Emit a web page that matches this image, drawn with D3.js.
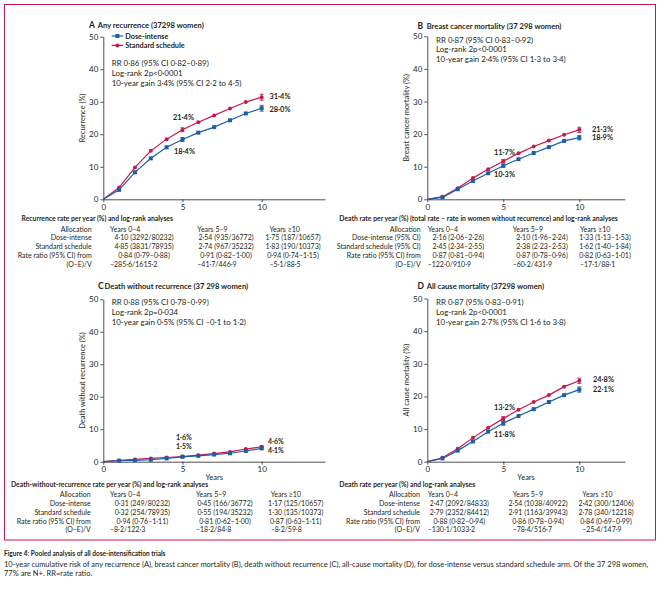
<!DOCTYPE html>
<html><head><meta charset="utf-8">
<script src="https://cdn.jsdelivr.net/npm/d3@7"></script>
<style>
body{margin:0;background:#fff}
text{font-family:Lato,"Open Sans",sans-serif;fill:#231f20}
</style>
</head><body><svg id="c" width="666" height="592"></svg>
<script>
// ---------- data ----------
const years = [0,1,2,3,4,5,6,7,8,9,10];
const recurDose = [0,2.9,8.3,12.6,16.0,18.4,20.5,22.2,24.3,26.4,28.0];
const recurStd  = [0,3.6,9.8,14.9,18.5,21.4,23.7,25.8,27.9,29.9,31.4];
const bcmDose   = [0,0.6,3.1,5.6,8.0,10.3,12.3,14.2,16.0,17.9,18.9];
const bcmStd    = [0,0.8,3.4,6.5,9.2,11.7,14.1,16.2,18.0,19.8,21.3];
const dwrDose   = [0,0.3,0.4,0.6,1.0,1.5,1.8,2.2,2.6,3.3,4.1];
const dwrStd    = [0,0.4,0.7,1.0,1.3,1.6,2.0,2.5,3.0,3.9,4.6];
const acmDose   = [0,1.0,3.4,6.2,9.2,11.8,14.0,16.1,18.3,20.4,22.1];
const acmStd    = [0,1.2,4.0,7.3,10.4,13.2,15.9,18.3,20.4,23.0,24.8];
// error bars (half-widths) at years 5 and 10
const errYears = [5,10];
const recurDoseErr = [0.6,0.9], recurStdErr = [0.6,0.9];
const bcmDoseErr = [0.5,0.7], bcmStdErr = [0.5,0.8];
const dwrDoseErr = [0.2,0.3], dwrStdErr = [0.2,0.3];
const acmDoseErr = [0.6,0.8], acmStdErr = [0.6,0.8];
// labelled values
const recurLabels = ["21·4%","18·4%","31·4%","28·0%"];
const bcmLabels = ["11·7%","10·3%","21·3%","18·9%"];
const dwrLabels = ["1·6%","1·5%","4·6%","4·1%"];
const acmLabels = ["13·2%","11·8%","24·8%","22·1%"];
const yTicks = [0,10,20,30,40,50];
const xTicks = [0,5,10];
const seriesNames = ["Dose-intense","Standard schedule"];
// stats
const recurStats = ["RR 0·86 (95% CI 0·82–0·89)","Log-rank 2p<0·0001","10-year gain 3·4% (95% CI 2·2 to 4·5)"];
const bcmStats = ["RR 0·87 (95% CI 0·83–0·92)","Log-rank 2p<0·0001","10-year gain 2·4% (95% CI 1·3 to 3·4)"];
const dwrStats = ["RR 0·88 (95% CI 0·78–0·99)","Log-rank 2p=0·034","10-year gain 0·5% (95% CI –0·1 to 1·2)"];
const acmStats = ["RR 0·87 (95% 0·83–0·91)","Log-rank 2p<0·0001","10-year gain 2·7% (95% CI 1·6 to 3·8)"];
// tables
const tableHeader = ["Allocation","Years 0–4","Years 5–9","Years ≥10"];
const rowLabelsPlain = ["Dose-intense","Standard schedule","Rate ratio (95% CI) from","(O–E)/V"];
const rowLabelsCI = ["Dose-intense (95% CI)","Standard schedule (95% CI)","Rate ratio (95% CI) from","(O–E)/V"];
const recurDoseRow = ["4·10 (3292/80232)","2·54 (935/36772)","1·75 (187/10657)"];
const recurStdRow  = ["4·85 (3831/78935)","2·74 (967/35232)","1·83 (190/10373)"];
const recurRR      = ["0·84 (0·79–0·88)","0·91 (0·82–1·00)","0·94 (0·74–1·15)"];
const recurOEV     = ["–285·6/1615·2","–41·7/446·9","–5·1/88·5"];
const bcmDoseRow = ["2·16 (2·06–2·26)","2·10 (1·96–2·24)","1·33 (1·13–1·53)"];
const bcmStdRow  = ["2·45 (2·34–2·55)","2·38 (2·23–2·53)","1·62 (1·40–1·84)"];
const bcmRR      = ["0·87 (0·81–0·94)","0·87 (0·78–0·96)","0·82 (0·63–1·01)"];
const bcmOEV     = ["–122·0/910·9","–60·2/431·9","–17·1/88·1"];
const dwrDoseRow = ["0·31 (249/80232)","0·45 (166/36772)","1·17 (125/10657)"];
const dwrStdRow  = ["0·32 (254/78935)","0·55 (194/35232)","1·30 (135/10373)"];
const dwrRR      = ["0·94 (0·76–1·11)","0·81 (0·62–1·00)","0·87 (0·63–1·11)"];
const dwrOEV     = ["–8·2/122·3","–18·2/84·8","–8·2/59·8"];
const acmDoseRow = ["2·47 (2092/84833)","2·54 (1038/40922)","2·42 (300/12406)"];
const acmStdRow  = ["2·79 (2352/84412)","2·91 (1163/39943)","2·78 (340/12218)"];
const acmRR      = ["0·88 (0·82–0·94)","0·86 (0·78–0·94)","0·84 (0·69–0·99)"];
const acmOEV     = ["–130·1/1033·2","–78·4/516·7","–25·4/147·9"];

const BLUE = "#1d5ea9", RED = "#c8174b", BORDER = "#c8174b";
const svg = d3.select("#c");

// frame
svg.append("rect").attr("x",4.5).attr("y",4.5).attr("width",651).attr("height",535.5)
  .attr("fill","none").attr("stroke",BORDER).attr("stroke-width",1);

function panel(cfg){
  const g = svg.append("g");
  const x = d3.scaleLinear().domain([0,cfg.xmax]).range([cfg.x0,cfg.x1]);
  const y = d3.scaleLinear().domain([0,50]).range([cfg.y1,cfg.y0]);
  // axes
  const ya = g.append("g").attr("transform",`translate(${cfg.x0},0)`)
    .call(d3.axisLeft(y).tickValues(yTicks).tickSize(3).tickPadding(2).tickSizeOuter(0));
  const xa = g.append("g").attr("transform",`translate(0,${cfg.y1})`)
    .call(d3.axisBottom(x).tickValues(xTicks).tickSize(3).tickPadding(2).tickSizeOuter(0));
  [ya,xa].forEach(a=>{
    a.selectAll("path,line").attr("stroke","#231f20").attr("stroke-width",0.8);
    a.selectAll("text").style("font-size","8px").attr("fill","#231f20").style("font-family","Lato");
  });
  // titles
  g.append("text").attr("x",cfg.lx).attr("y",cfg.ty).style("font-size","8.5px").style("font-weight","bold").text(cfg.letter);
  g.append("text").attr("x",cfg.tx).attr("y",cfg.ty).style("font-size","7.6px").style("font-weight","bold").text(cfg.title);
  // y label
  g.append("text").attr("transform",`translate(${cfg.x0-18},${(cfg.y0+cfg.y1)/2}) rotate(-90)`)
    .attr("text-anchor","middle").style("font-size","7.5px").text(cfg.ylabel);
  if(cfg.xlabel) g.append("text").attr("x",(cfg.x0+cfg.x1)/2).attr("y",cfg.y1+18.5)
    .attr("text-anchor","middle").style("font-size","7.5px").text(cfg.xlabel);
  // stats
  cfg.stats.forEach((s,i)=>g.append("text").attr("x",cfg.sx).attr("y",cfg.sy+i*9.6).style("font-size","7.9px").text(s));
  // series
  const line = d3.line().x((d,i)=>x(years[i])).y(d=>y(d));
  [[cfg.std,RED,"circle",cfg.stdErr],[cfg.dose,BLUE,"square",cfg.doseErr]].forEach(([vals,col,shape,err])=>{
    g.append("path").datum(vals).attr("d",line).attr("fill","none").attr("stroke",col).attr("stroke-width",1.2);
    // error bars
    errYears.forEach((yr,k)=>{
      const v = vals[years.indexOf(yr)], cx = x(yr);
      const e = g.append("g").attr("stroke",col).attr("stroke-width",0.9);
      e.append("line").attr("x1",cx).attr("x2",cx).attr("y1",y(v-err[k])).attr("y2",y(v+err[k]));
      e.append("line").attr("x1",cx-2).attr("x2",cx+2).attr("y1",y(v-err[k])).attr("y2",y(v-err[k]));
      e.append("line").attr("x1",cx-2).attr("x2",cx+2).attr("y1",y(v+err[k])).attr("y2",y(v+err[k]));
    });
    vals.forEach((v,i)=>{
      if(i===0) return;
      if(shape==="circle") g.append("circle").attr("cx",x(years[i])).attr("cy",y(v)).attr("r",2).attr("fill",col);
      else g.append("rect").attr("x",x(years[i])-2).attr("y",y(v)-2).attr("width",4).attr("height",4).attr("fill",col);
    });
  });
  // value labels
  const lab = cfg.labels;
  cfg.labelPos.forEach((p,i)=>g.append("text").attr("x",p[0]).attr("y",p[1]).attr("text-anchor",p[2]||"start")
    .style("font-size",(cfg.labelSize||7.4)+"px").style("font-weight","bold").text(lab[i]));
  // legend
  if(cfg.legend){
    seriesNames.forEach((n,i)=>{
      const ly = cfg.legend[1]+i*9.4, lx = cfg.legend[0];
      const col = i===0?BLUE:RED;
      g.append("line").attr("x1",lx).attr("x2",lx+11.5).attr("y1",ly).attr("y2",ly).attr("stroke",col).attr("stroke-width",1.2);
      if(i===0) g.append("rect").attr("x",lx+3.7).attr("y",ly-2).attr("width",4).attr("height",4).attr("fill",col);
      else g.append("circle").attr("cx",lx+5.75).attr("cy",ly).attr("r",2).attr("fill",col);
      g.append("text").attr("x",lx+13.5).attr("y",ly+2.6).style("font-size","7.3px").style("font-weight","bold").text(n);
    });
  }
}

function table(cfg){
  const g = svg.append("g").style("font-size","7px");
  g.append("text").attr("x",cfg.tx).attr("y",cfg.ty).style("font-weight","bold").style("font-size","6.8px").text(cfg.title);
  const r0 = cfg.ty+10.5, dy = 8.85;
  g.append("text").attr("x",cfg.lr).attr("y",r0).attr("text-anchor","end").text(tableHeader[0]);
  tableHeader.slice(1).forEach((h,j)=>g.append("text").attr("x",cfg.hx[j]).attr("y",r0).text(h));
  cfg.labels.forEach((l,i)=>g.append("text").attr("x",cfg.lr).attr("y",r0+(i+1)*dy).attr("text-anchor","end").text(l));
  cfg.rows.forEach((row,i)=>row.forEach((v,j)=>{
    const last = i===3;
    g.append("text").attr("x",last?cfg.hx[j]:cfg.cx[j]).attr("y",r0+(i+1)*dy)
      .attr("text-anchor",last?"start":"middle").text(v);
  }));
}

panel({letter:"A",title:"Any recurrence (37298 women)",lx:89,tx:97.7,ty:28.3,x0:103.3,x1:325,xmax:14,y0:36.7,y1:199.3,
  ylabel:"Recurrence (%)",stats:recurStats,sx:111.7,sy:66.3,dose:recurDose,std:recurStd,doseErr:recurDoseErr,stdErr:recurStdErr,
  labels:recurLabels,labelPos:[[173,120.2],[174,153.5],[269.5,99.2],[269.5,111.8]],legend:[111.7,36]});
panel({letter:"B",title:"Breast cancer mortality (37 298 women)",lx:417.5,tx:426.7,ty:28.5,x0:427.3,x1:624.9,xmax:13,y0:36.3,y1:199.3,
  ylabel:"Breast cancer mortality (%)",stats:bcmStats,sx:436,sy:42.7,dose:bcmDose,std:bcmStd,doseErr:bcmDoseErr,stdErr:bcmStdErr,
  labels:bcmLabels,labelPos:[[494,155.2],[494,176.5],[592,131.8],[592,139.8]]});
panel({letter:"C",title:"Death without recurrence (37 298 women)",lx:98,tx:104.5,ty:288.5,x0:103.3,x1:325,xmax:14,y0:299.3,y1:461.7,
  ylabel:"Death without recurrence (%)",xlabel:"Years",stats:dwrStats,sx:111.7,sy:305.4,dose:dwrDose,std:dwrStd,doseErr:dwrDoseErr,stdErr:dwrStdErr,
  labels:dwrLabels,labelSize:7,labelPos:[[176,439.5],[176,448.5],[268,444.3],[268,453.3]]});
panel({letter:"D",title:"All cause mortality (37298 women)",lx:417.5,tx:426.7,ty:288.5,x0:427.3,x1:624.9,xmax:13,y0:298.5,y1:461.7,
  ylabel:"All cause mortality (%)",xlabel:"Years",stats:acmStats,sx:436,sy:305.4,dose:acmDose,std:acmStd,doseErr:acmDoseErr,stdErr:acmStdErr,
  labels:acmLabels,labelPos:[[494,410.2],[494,436.5],[593,381.8],[593,391.8]]});

table({title:"Recurrence rate per year (%) and log-rank analyses",tx:21.5,ty:221,lr:91.7,hx:[110,197.3,269.5],cx:[144,226,293],
  labels:rowLabelsPlain,rows:[recurDoseRow,recurStdRow,recurRR,recurOEV]});
table({title:"Death rate per year (%) (total rate – rate in women without recurrence) and log-rank analyses",tx:339.3,ty:221,lr:420.7,hx:[427.7,512.7,580],cx:[458.3,542,605],
  labels:rowLabelsCI,rows:[bcmDoseRow,bcmStdRow,bcmRR,bcmOEV]});
table({title:"Death-without-recurrence rate per year (%) and log-rank analyses",tx:11,ty:486.5,lr:90.7,hx:[110,196,270.7],cx:[142.3,225,295.7],
  labels:rowLabelsPlain,rows:[dwrDoseRow,dwrStdRow,dwrRR,dwrOEV]});
table({title:"Death rate per year (%) and log-rank analyses",tx:339.3,ty:486.5,lr:420,hx:[427.7,512.7,582.3],cx:[459.3,538,606],
  labels:rowLabelsPlain,rows:[acmDoseRow,acmStdRow,acmRR,acmOEV]});

// caption
const cap = svg.append("g").style("font-size","7.5px");
cap.append("text").attr("x",4).attr("y",556.3).style("font-weight","bold").style("font-size","6.5px").text("Figure 4: Pooled analysis of all dose-intensification trials");
cap.append("text").attr("x",4).attr("y",566.5).text("10-year cumulative risk of any recurrence (A), breast cancer mortality (B), death without recurrence (C), all-cause mortality (D), for dose-intense versus standard schedule arm. Of the 37 298 women,");
cap.append("text").attr("x",4).attr("y",576).text("77% are N+. RR=rate ratio.");
</script></body></html>
